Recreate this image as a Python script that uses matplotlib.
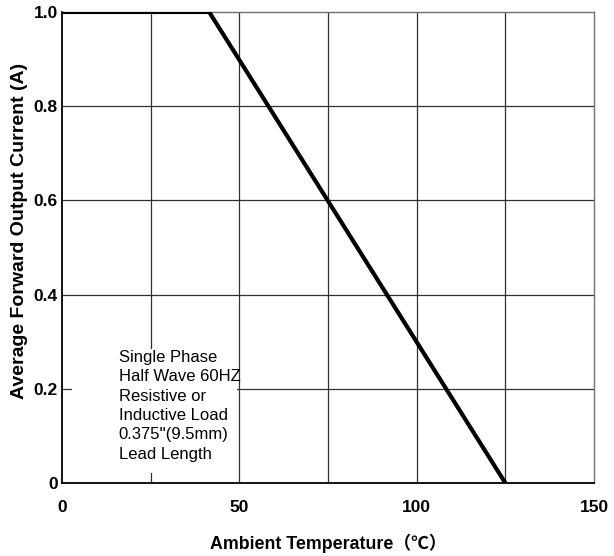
import matplotlib
matplotlib.use("Agg")
import matplotlib.pyplot as plt
from matplotlib.patches import Rectangle

plt.rcParams['font.family'] = ['Liberation Sans', 'Noto Sans CJK SC', 'DejaVu Sans']

# Data
temp = [0, 41.5, 125]
current = [1.0, 1.0, 0.0]
x_major = [0, 50, 100, 150]
x_labels = ["0", "50", "100", "150"]
x_minor = [25, 75, 125]
y_ticks = [0, 0.2, 0.4, 0.6, 0.8, 1.0]
y_labels = ["0", "0.2", "0.4", "0.6", "0.8", "1.0"]
note = "Single Phase\nHalf Wave 60HZ\nResistive or\nInductive Load\n0.375''(9.5mm)\nLead Length"

fig = plt.figure(figsize=(6.14, 5.56), dpi=100)
ax = fig.add_axes([62/614, 73/556, 532/614, 471/556])
ax.set_xlim(0, 150)
ax.set_ylim(0, 1.0)

grid_color = '#303030'
for xv in x_major[1:-1] + x_minor:
    ax.axvline(xv, color=grid_color, lw=0.9, zorder=1)
for yv in y_ticks[1:-1]:
    ax.axhline(yv, color=grid_color, lw=0.9, zorder=1)

# white note background
ax.add_patch(Rectangle((2.8, 0.021), 46.6, 0.264, facecolor='white',
                       edgecolor='none', zorder=2))
ax.text(16, 0.282, note, fontsize=12, va='top', ha='left',
        linespacing=1.36, zorder=3)

ax.plot(temp, current, color='black', lw=3.0, zorder=4, solid_capstyle='butt')

ax.set_xticks(x_major)
ax.set_xticklabels(x_labels, fontweight='bold', fontsize=12.5)
ax.set_yticks(y_ticks)
ax.set_yticklabels(y_labels, fontweight='bold', fontsize=12.5)
ax.tick_params(axis='x', length=0, pad=12)
ax.tick_params(axis='y', length=0, pad=3)

for s in ['left', 'bottom']:
    ax.spines[s].set_color('black')
    ax.spines[s].set_linewidth(1.3)
for s in ['top', 'right']:
    ax.spines[s].set_color('#707070')
    ax.spines[s].set_linewidth(1.0)

ax.set_xlabel("Ambient Temperature（℃）", fontweight='bold', fontsize=12.8, labelpad=14)
ax.set_ylabel("Average Forward Output Current (A)", fontweight='bold', fontsize=14, labelpad=4)
ax.yaxis.set_label_coords(-0.064, 0.535)

fig.savefig("out.png", dpi=100)
